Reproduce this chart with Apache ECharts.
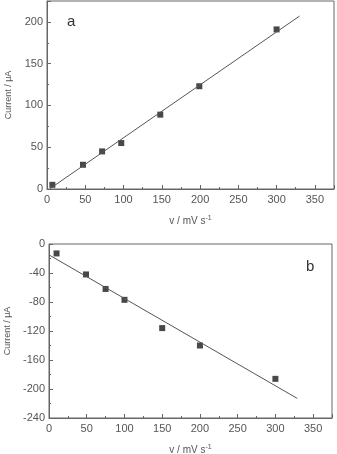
<!DOCTYPE html>
<html lang="en">
<head>
<meta charset="utf-8">
<title>Current vs scan rate</title>
<script src="https://cdn.jsdelivr.net/npm/echarts@6/dist/echarts.min.js"></script>
<style>
  html, body { margin: 0; padding: 0; background: #fff; }
  #main { width: 337px; height: 454px; }
</style>
</head>
<body>
<div id="main"></div>
<script>
// panel a
var rateA = [7, 47, 72, 97, 148, 199, 300];
var currA = [5, 29, 45, 55, 89, 123, 191];
var fitA = [[4, 0.5], [330, 207]];
// panel b
var rateB = [10, 49, 75, 100, 150, 200, 300];
var currB = [-13, -42, -62, -77, -116, -140, -186];
var fitB = [[0, -15], [329, -213]];

var textCol = '#555';
var axisCol = '#666';

function pairs(xs, ys) {
    return xs.map(function (x, i) { return [x, ys[i]]; });
}

function xAx(gi) {
    return {
        gridIndex: gi, type: 'value', min: 0, max: 375, interval: 50,
        name: 'v / mV s{sup|-1}', nameLocation: 'middle', nameGap: 26,
        nameTextStyle: {
            color: textCol, fontSize: 10, fontFamily: 'Liberation Sans',
            rich: { sup: { fontSize: 7, verticalAlign: 'top', padding: [0, 0, 6, 0], color: textCol } }
        },
        axisLine: { onZero: false, lineStyle: { color: axisCol, width: 1 } },
        axisTick: { inside: true, length: 4, lineStyle: { color: axisCol } },
        minorTick: { show: true, splitNumber: 2, length: 2, lineStyle: { color: axisCol } },
        axisLabel: { color: textCol, fontSize: 11, fontFamily: 'Liberation Sans', showMaxLabel: false, margin: 5 },
        splitLine: { show: false }
    };
}

function yAx(gi, min, max, step, gap) {
    return {
        gridIndex: gi, type: 'value', min: min, max: max, interval: step,
        name: 'Current / \u03bcA', nameLocation: 'middle', nameGap: gap,
        nameTextStyle: { color: textCol, fontSize: 9, fontFamily: 'Liberation Sans' },
        axisLine: { onZero: false, lineStyle: { color: axisCol, width: 1 } },
        axisTick: { inside: true, length: 4, lineStyle: { color: axisCol } },
        minorTick: { show: true, splitNumber: 2, length: 2, lineStyle: { color: axisCol } },
        axisLabel: { color: textCol, fontSize: 11, fontFamily: 'Liberation Sans', showMaxLabel: min < 0 ? true : false, margin: 4 },
        splitLine: { show: false }
    };
}

var myChart = echarts.init(document.getElementById('main'));
myChart.setOption({
    backgroundColor: '#fff',
    animation: false,
    title: [
        { text: 'a', left: 62, top: 9, textStyle: { fontSize: 15, fontWeight: 'normal', color: '#333', fontFamily: 'Liberation Sans' } },
        { text: 'b', left: 301, top: 254, textStyle: { fontSize: 15, fontWeight: 'normal', color: '#333', fontFamily: 'Liberation Sans' } }
    ],
    grid: [
        { left: 47, right: 3, top: 1, bottom: 265, show: true, borderColor: axisCol, borderWidth: 1,
          containLabel: false, outerBoundsMode: 'none' },
        { left: 49, right: 5, top: 244, bottom: 36, show: true, borderColor: axisCol, borderWidth: 1,
          containLabel: false, outerBoundsMode: 'none' }
    ],
    xAxis: [xAx(0), xAx(1)],
    yAxis: [yAx(0, 0, 225, 50, 34), yAx(1, -240, 0, 40, 37)],
    series: [
        { type: 'line', xAxisIndex: 0, yAxisIndex: 0, data: fitA, showSymbol: false,
          lineStyle: { color: '#555', width: 1 } },
        { type: 'scatter', xAxisIndex: 0, yAxisIndex: 0, data: pairs(rateA, currA),
          symbol: 'rect', symbolSize: 6, itemStyle: { color: '#1a1a1a' } },
        { type: 'line', xAxisIndex: 1, yAxisIndex: 1, data: fitB, showSymbol: false,
          lineStyle: { color: '#555', width: 1 } },
        { type: 'scatter', xAxisIndex: 1, yAxisIndex: 1, data: pairs(rateB, currB),
          symbol: 'rect', symbolSize: 6, itemStyle: { color: '#1a1a1a' } }
    ]
});
</script>
</body>
</html>
